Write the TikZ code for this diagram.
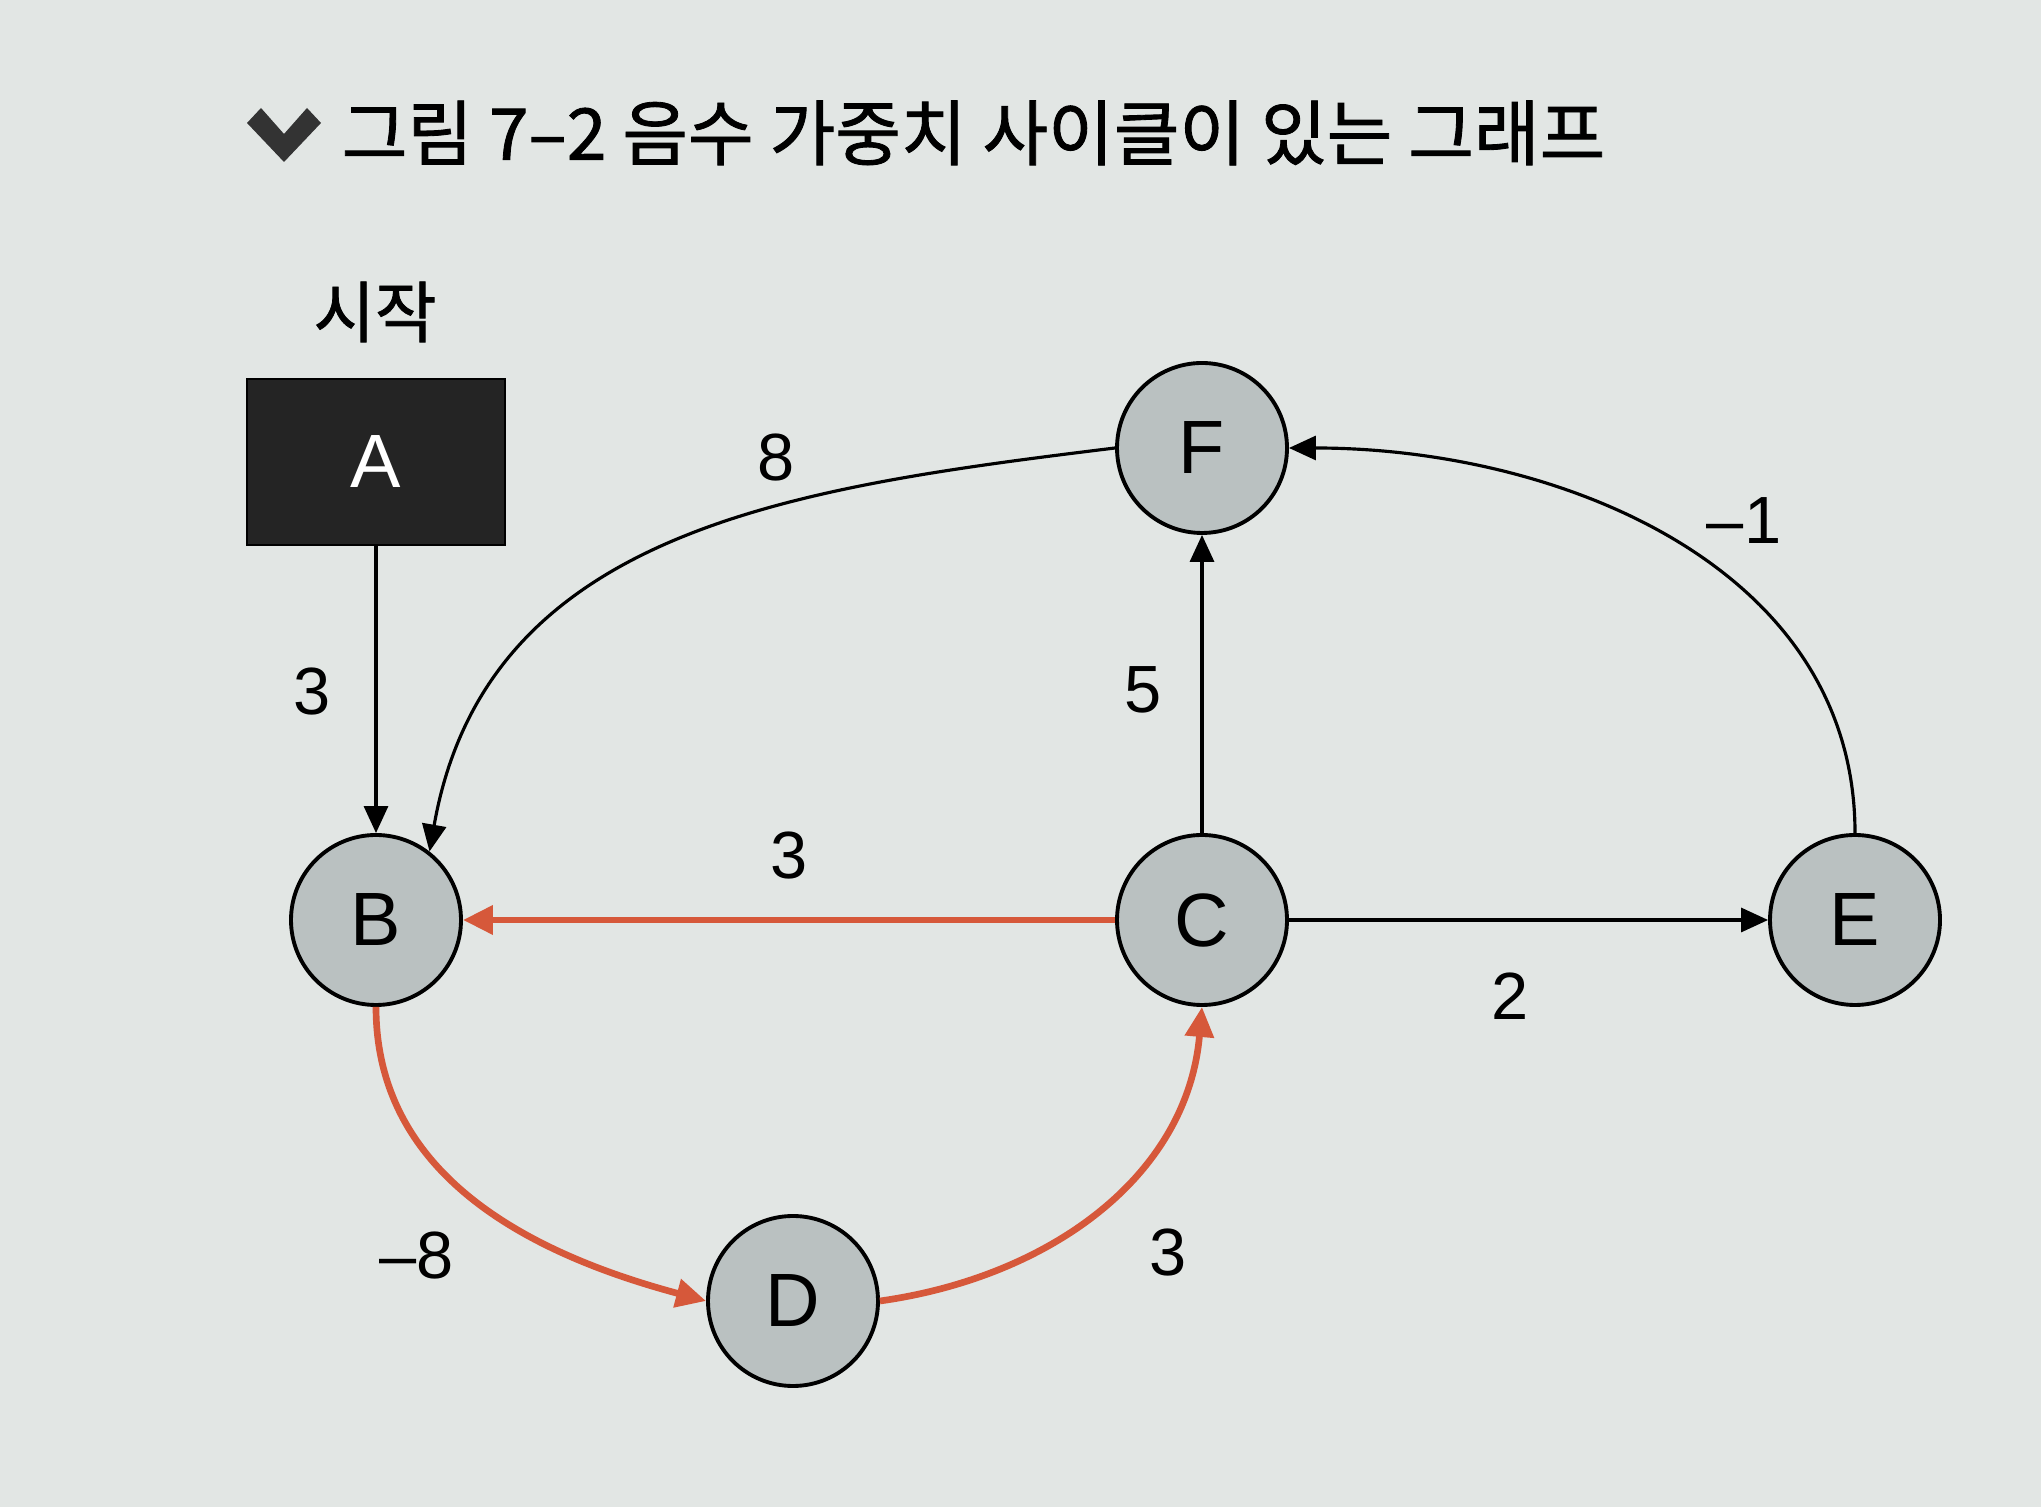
\documentclass[tikz,border=0pt]{standalone}
\usepackage{fontspec}
\setmainfont{Liberation Sans}
\newfontfamily\kr{Noto Sans CJK KR}
\newfontfamily\krtitle[FakeBold=1.2]{Noto Sans CJK KR}
\usetikzlibrary{arrows.meta}

\begin{document}
\begin{tikzpicture}[
    vertex/.style={draw, circle, line width=1.1pt, fill=vertexfill, minimum size=\nodesize cm, inner sep=0pt, font=\fontsize{21.5}{24}\selectfont},
    startbox/.style={draw=black, fill=startfill, text=white, minimum width=2.58cm, minimum height=1.66cm, inner sep=0pt, font=\fontsize{21.5}{24}\selectfont},
    edge/.style={line width=0.9pt, -{Triangle[length=0.27cm, width=0.24cm]}},
    negedge/.style={line width=1.9pt, draw=negcolor, -{Triangle[length=0.3cm, width=0.28cm]}},
    weight/.style={inner sep=0pt, font=\fontsize{19}{22}\selectfont}
  ]
      % Define node size
      \def\nodesize{1.7}

      % Define colors
      \definecolor{paper}{RGB}{226,230,228}
      \definecolor{vertexfill}{RGB}{186,193,193}
      \definecolor{startfill}{RGB}{36,36,36}
      \definecolor{negcolor}{RGB}{214,88,58}

      % Page
      \fill[paper] (0,0) rectangle (20.41,15.07);
      \useasboundingbox (0,0) rectangle (20.41,15.07);

      % Title
      \fill[black!80] (2.47,13.84) -- (2.61,13.99) -- (2.84,13.73) -- (3.07,13.99) -- (3.21,13.84) -- (2.84,13.45) -- cycle;
      \node[anchor=west, inner sep=0pt, font=\krtitle\fontsize{20.3}{23}\selectfont] (title) at (3.41,13.74) {그림 7–2 음수 가중치 사이클이 있는 그래프};

      % Start vertex
      \node[startbox] (A) at (3.76,10.45) {A};
      \node[inner sep=0pt, font=\krtitle\fontsize{19}{22}\selectfont] (start) at (3.75,11.95) {시작};

      % Other vertices
      \node[vertex] (B) at (3.76, 5.87) {B};
      \node[vertex] (C) at (12.02, 5.87) {C};
      \node[vertex] (D) at (7.93, 2.06) {D};
      \node[vertex] (E) at (18.55, 5.87) {E};
      \node[vertex] (F) at (12.02,10.59) {F};

      % Black edges
      \draw[edge] (A) -- (B);
      \draw[edge] (F.west) to[out=187, in=80, looseness=1.05] (B.52);
      \draw[edge] (C) -- (F);
      \draw[edge] (E) to[out=90, in=0] (F);
      \draw[edge] (C) -- (E);

      % Negative cycle
      \draw[negedge] (C) -- (B);
      \draw[negedge] (B.south) to[out=-90, in=165] (D.west);
      \draw[negedge] (D.east) to[out=8, in=-95] (C.south);

      % Weights
      \node[weight] (wAB) at (3.12, 8.15) {3};
      \node[weight] (wFB) at (7.76,10.49) {8};
      \node[weight] (wCF) at (11.43, 8.17) {5};
      \node[weight] (wEF) at (17.44, 9.86) {–1};
      \node[weight] (wCB) at (7.89, 6.51) {3};
      \node[weight] (wCE) at (15.10, 5.11) {2};
      \node[weight] (wBD) at (4.17, 2.51) {–8};
      \node[weight] (wDC) at (11.68, 2.54) {3};

    \end{tikzpicture}
\end{document}
